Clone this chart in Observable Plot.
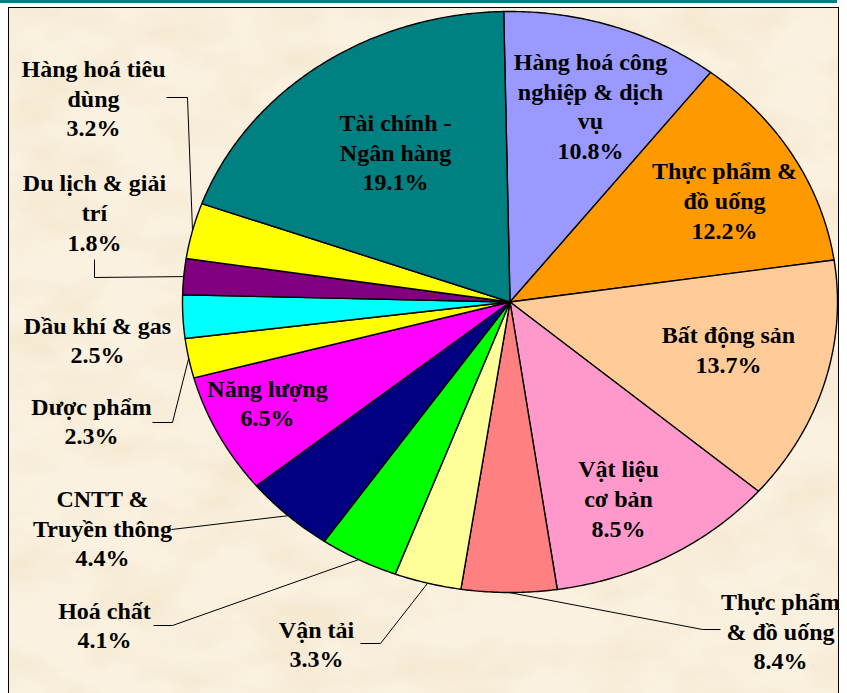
<!DOCTYPE html>
<html>
<head>
<meta charset="utf-8">
<script src="https://cdn.jsdelivr.net/npm/d3@7"></script>
<script src="https://cdn.jsdelivr.net/npm/@observablehq/plot@0.6"></script>
<style>
  html, body { margin: 0; padding: 0; background: #ffffff; }
  #stage { position: relative; width: 847px; height: 693px; overflow: hidden; }
  #topbar { position: absolute; left: 0; top: 0; width: 837px; height: 3px; background: #008080; }
  #frame { position: absolute; left: 8px; top: 7px; width: 831px; height: 720px; border: 1.5px solid #000; box-sizing: border-box; overflow: hidden; }
  #chart { position: absolute; left: 0; top: 0; }
</style>
</head>
<body>
<div id="stage">
  <div id="topbar"></div>
  <div id="frame">
    <svg width="831" height="720" style="display:block">
      <defs>
        <filter id="parch" x="0" y="0" width="100%" height="100%">
          <feTurbulence type="fractalNoise" baseFrequency="0.012 0.022" numOctaves="4" seed="7"/>
          <feColorMatrix type="matrix" values="0 0 0 0 0.78  0 0 0 0 0.60  0 0 0 0 0.34  2.6 0 0 0 -1.0"/>
        </filter>
      </defs>
      <rect width="831" height="720" fill="#faf1e0"/>
      <rect width="831" height="720" fill="#000" filter="url(#parch)" opacity="0.2"/>
    </svg>
  </div>
  <div id="chart"></div>
</div>
<script>
// ---- data (clockwise from 12 o'clock) ----
const sectors = ["Hàng hoá công\nnghiệp & dịch\nvụ", "Thực phẩm &\nđồ uống", "Bất động sản", "Vật liệu\ncơ bản", "Thực phẩm\n& đồ uống", "Vận tải", "Hoá chất", "CNTT &\nTruyền thông", "Năng lượng", "Dược phẩm", "Dầu khí & gas", "Du lịch & giải\ntrí", "Hàng hoá tiêu\ndùng", "Tài chính -\nNgân hàng"];
// slice sizes as drawn in the picture (share of the full circle, %)
const shares = [10.8, 12.2, 13.6, 11.4, 4.7, 3.3, 3.9, 4.5, 6.7, 2.2, 2.4, 2.0, 3.1, 19.2];
// percentage texts printed on the chart
const pctLabels = ["10.8%", "12.2%", "13.7%", "8.5%", "8.4%", "3.3%", "4.1%", "4.4%", "6.5%", "2.3%", "2.5%", "1.8%", "3.2%", "19.1%"];
const sliceColors = ["#9999ff", "#ff9900", "#ffcc99", "#ff99cc", "#ff8080", "#ffff99", "#00ff00", "#000080", "#ff00ff", "#ffff00", "#00ffff", "#800080", "#ffff00", "#008080"];

// ---- layout (pixels) ----
const pie = {cx: 509.5, cy: 301.5, rx: 327.5, ry: 290.5, start: -1.1};
const labelPos = [[590,107.5],[724,202],[728,351],[618,500],[780,632.5],[316,645.5],[104,626.5],[102,529.5],[267,404.5],[91,422.5],[97,341.5],[94,214],[93,99.5],[395,153.5]];
const leaderElbows = [null, null, null, null, [[702,629],[720,629]], [[380,643],[360,643]], [[172,625],[153,625]], [[171,529]], null, [[172,422],[152,422]], null, [[94,277],[94,259]], [[187,97],[166,97]], null];

// ---- build geometry from data ----
const total = d3.sum(shares);
const rad = d => d * Math.PI / 180;
const rimPt = a => [pie.cx + pie.rx * Math.sin(rad(a)), pie.cy - pie.ry * Math.cos(rad(a))];
const slicePts = [];
const leaderPts = [];
const textRows = [];
let acc = pie.start;
shares.forEach((v, i) => {
  const a0 = acc, a1 = acc + v / total * 360;
  acc = a1;
  slicePts.push({id: i, color: sliceColors[i], x: pie.cx, y: pie.cy});
  const n = Math.max(2, Math.ceil((a1 - a0) / 0.5));
  for (let k = 0; k <= n; k++) {
    const [x, y] = rimPt(a0 + (a1 - a0) * k / n);
    slicePts.push({id: i, color: sliceColors[i], x, y});
  }
  slicePts.push({id: i, color: sliceColors[i], x: pie.cx, y: pie.cy});
  const mid = (a0 + a1) / 2;
  if (leaderElbows[i]) {
    const [rx0, ry0] = rimPt(mid);
    leaderPts.push({id: i, x: rx0, y: ry0});
    leaderElbows[i].forEach(([x, y]) => leaderPts.push({id: i, x, y}));
  }
  textRows.push({x: labelPos[i][0], y: labelPos[i][1], text: sectors[i] + "\n" + pctLabels[i]});
});

const chart = Plot.plot({
  width: 847,
  height: 693,
  margin: 0,
  x: {domain: [0, 847], range: [0, 847], axis: null},
  y: {domain: [0, 693], range: [0, 693], axis: null},
  color: {type: "identity"},
  style: {background: "transparent", overflow: "visible"},
  marks: [
    Plot.line(slicePts, {x: "x", y: "y", z: "id", fill: "color", stroke: "#000", strokeWidth: 1.4, strokeLinejoin: "round", curve: "linear"}),
    Plot.line(leaderPts, {x: "x", y: "y", z: "id", stroke: "#000", strokeWidth: 1, strokeLinecap: "butt", strokeLinejoin: "miter"}),
    Plot.text(textRows, {x: "x", y: "y", dy: -3, text: "text", fontSize: 24, fontWeight: "bold", fontFamily: "'Liberation Serif', 'Times New Roman', serif", lineHeight: 1.24, fill: "#000", textAnchor: "middle", lineAnchor: "middle"})
  ]
});
document.getElementById("chart").appendChild(chart);
</script>
</body>
</html>
